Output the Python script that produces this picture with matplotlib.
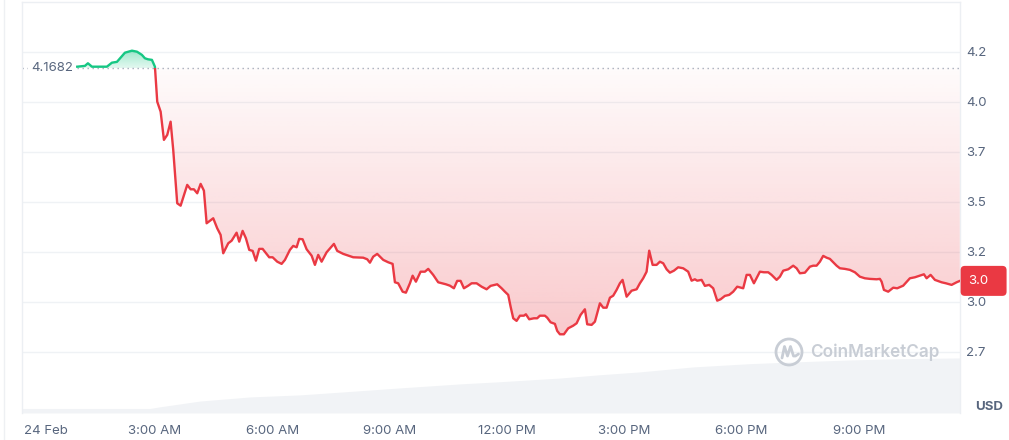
import numpy as np
import matplotlib
matplotlib.use("Agg")
import matplotlib.pyplot as plt
import matplotlib.colors as mcolors
import matplotlib.transforms as mtransforms
from matplotlib.patches import Rectangle, FancyBboxPatch, Circle
from matplotlib.path import Path
from matplotlib.lines import Line2D

plt.rcParams['font.family'] = ['Inter', 'DejaVu Sans']

# ---------------- data ----------------
hours = [
    1.013, 1.210, 1.286, 1.389, 1.593, 1.772, 1.900, 2.028, 2.233, 2.412,
    2.540, 2.667, 2.744, 2.821, 2.923, 3.000, 3.059, 3.146, 3.230, 3.315,
    3.401, 3.468, 3.570, 3.657, 3.826, 3.913, 3.997, 4.082, 4.169, 4.253,
    4.322, 4.491, 4.593, 4.680, 4.747, 4.875, 4.962, 5.089, 5.156, 5.243,
    5.327, 5.412, 5.499, 5.583, 5.667, 5.754, 5.923, 6.010, 6.128, 6.240,
    6.325, 6.452, 6.537, 6.624, 6.690, 6.777, 6.880, 7.008, 7.092, 7.176,
    7.263, 7.391, 7.578, 7.662, 7.816, 8.072, 8.327, 8.430, 8.499, 8.583,
    8.685, 8.839, 8.967, 9.079, 9.138, 9.222, 9.335, 9.419, 9.522, 9.591,
    9.675, 9.795, 9.905, 9.990, 10.117, 10.245, 10.442, 10.545, 10.647, 10.731,
    10.818, 10.903, 11.013, 11.100, 11.227, 11.355, 11.483, 11.585, 11.696, 11.754,
    11.867, 11.951, 12.036, 12.097, 12.164, 12.250, 12.335, 12.437, 12.488, 12.573,
    12.693, 12.777, 12.846, 12.974, 13.033, 13.120, 13.230, 13.289, 13.358, 13.460,
    13.571, 13.698, 13.785, 13.887, 13.997, 14.056, 14.169, 14.253, 14.381, 14.466,
    14.552, 14.637, 14.721, 14.808, 14.892, 14.961, 15.064, 15.192, 15.320, 15.404,
    15.488, 15.575, 15.642, 15.729, 15.831, 15.915, 16.000, 16.087, 16.171, 16.274,
    16.383, 16.511, 16.639, 16.726, 16.810, 16.870, 16.982, 17.066, 17.176, 17.279,
    17.381, 17.468, 17.578, 17.688, 17.790, 17.893, 18.046, 18.133, 18.217, 18.320,
    18.473, 18.576, 18.686, 18.772, 18.900, 18.985, 19.069, 19.197, 19.325, 19.412,
    19.496, 19.624, 19.752, 19.836, 19.923, 20.008, 20.092, 20.179, 20.263, 20.348,
    20.435, 20.519, 20.647, 20.775, 20.903, 21.030, 21.158, 21.286, 21.458, 21.542,
    21.586, 21.645, 21.755, 21.883, 21.985, 22.138, 22.309, 22.437, 22.565, 22.668,
    22.737, 22.839, 22.949, 23.120, 23.230, 23.376, 23.504, 23.588,
]
price = [
    4.175, 4.179, 4.192, 4.175, 4.175, 4.175, 4.195, 4.199, 4.245, 4.255,
    4.250, 4.234, 4.217, 4.212, 4.209, 4.175, 4.000, 3.950, 3.809, 3.834,
    3.900, 3.759, 3.492, 3.480, 3.584, 3.562, 3.562, 3.542, 3.589, 3.555,
    3.392, 3.417, 3.367, 3.334, 3.242, 3.292, 3.305, 3.345, 3.300, 3.354,
    3.317, 3.259, 3.254, 3.205, 3.264, 3.264, 3.222, 3.222, 3.200, 3.189,
    3.209, 3.259, 3.279, 3.272, 3.314, 3.312, 3.262, 3.230, 3.184, 3.234,
    3.200, 3.247, 3.289, 3.254, 3.239, 3.222, 3.220, 3.212, 3.195, 3.225,
    3.239, 3.209, 3.197, 3.189, 3.097, 3.092, 3.050, 3.045, 3.092, 3.130,
    3.100, 3.150, 3.150, 3.164, 3.134, 3.097, 3.087, 3.080, 3.067, 3.104,
    3.104, 3.067, 3.080, 3.092, 3.092, 3.075, 3.062, 3.079, 3.084, 3.087,
    3.067, 3.050, 3.034, 2.975, 2.917, 2.904, 2.930, 2.930, 2.937, 2.912,
    2.917, 2.917, 2.930, 2.930, 2.920, 2.897, 2.889, 2.854, 2.837, 2.837,
    2.867, 2.880, 2.892, 2.934, 2.962, 2.887, 2.884, 2.900, 2.992, 2.970,
    2.970, 3.020, 3.030, 3.059, 3.092, 3.109, 3.025, 3.055, 3.062, 3.092,
    3.117, 3.150, 3.255, 3.184, 3.184, 3.200, 3.192, 3.162, 3.145, 3.155,
    3.172, 3.167, 3.150, 3.105, 3.112, 3.105, 3.109, 3.079, 3.084, 3.067,
    3.005, 3.012, 3.029, 3.034, 3.050, 3.075, 3.067, 3.134, 3.134, 3.092,
    3.150, 3.147, 3.147, 3.134, 3.109, 3.125, 3.155, 3.162, 3.180, 3.167,
    3.142, 3.145, 3.175, 3.180, 3.180, 3.200, 3.229, 3.220, 3.214, 3.197,
    3.180, 3.167, 3.164, 3.159, 3.147, 3.125, 3.117, 3.114, 3.112, 3.114,
    3.100, 3.059, 3.050, 3.070, 3.067, 3.080, 3.117, 3.122, 3.130, 3.137,
    3.117, 3.134, 3.109, 3.097, 3.092, 3.084, 3.097, 3.104,
]
open_price = 4.1682
open_label = "4.1682"
last_label = "3.0"

vol_hours = [-0.40, 2.87, 3.13, 4.15, 5.43, 6.71, 7.48, 9.27, 10.85, 11.82,
             13.36, 14.38, 15.41, 16.76, 18.22, 19.29, 20.78, 22.05, 23.59]
vol_values = [1.1, 1.1, 1.5, 2.9, 3.9, 4.4, 4.9, 6.1, 7.1, 7.6,
              8.5, 9.3, 10.0, 11.2, 12.0, 12.4, 12.9, 13.2, 13.4]

x_tick_hours = [0.2, 3, 6, 9, 12, 15, 18, 21]
x_tick_labels = ['24 Feb', '3:00 AM', '6:00 AM', '9:00 AM', '12:00 PM',
                 '3:00 PM', '6:00 PM', '9:00 PM']
y_tick_values = [4.25, 4.0, 3.75, 3.5, 3.25, 3.0, 2.75]
y_tick_labels = ['4.2', '4.0', '3.7', '3.5', '3.2', '3.0', '2.7']
x_range = (-0.40, 23.59)
y_range = (2.4435, 4.4985)

# ---------------- styling ----------------
RED = '#ea3943'
GREEN = '#16c784'
TXT = '#58667e'
GRID = '#eff2f5'

fig = plt.figure(figsize=(10.09, 4.40), dpi=100)
fig.patch.set_facecolor('white')
ax = fig.add_axes([0.0218, 0.0614, 0.9296, 0.9341])
ax2 = ax.twinx()
ax2.set_zorder(0)
ax.set_zorder(1)
ax.patch.set_visible(False)
ax2.patch.set_visible(False)

# volume area
ax2.fill_between(vol_hours, vol_values, 0, color='#f1f3f6', lw=0)
ax2.set_ylim(0, 100)
ax2.set_yticks([])
for s in ax2.spines.values():
    s.set_visible(False)
ax2.tick_params(length=0, labelright=False)

h = np.array(hours)
p = np.array(price)

# gradient fills clipped to the area between the line and the open price
below = ax.fill_between(h, p, open_price, where=p <= open_price, interpolate=True,
                        facecolor='none', edgecolor='none')
above = ax.fill_between(h, p, open_price, where=p >= open_price, interpolate=True,
                        facecolor='none', edgecolor='none')


def gradient(color, a_bot, a_top, y0, y1, clip):
    rgb = mcolors.to_rgb(color)
    n = 256
    img = np.zeros((n, 2, 4))
    img[:, :, :3] = rgb
    img[:, :, 3] = np.linspace(a_bot, a_top, n)[:, None]
    im = ax.imshow(img, extent=(h[0], h[-1], y0, y1), origin='lower',
                   aspect='auto', zorder=1.5, interpolation='bilinear')
    paths = clip.get_paths()
    if paths:
        im.set_clip_path(Path.make_compound_path(*paths), ax.transData)


gradient(RED, 0.27, 0.02, p.min(), open_price, below)
gradient(GREEN, 0.12, 0.42, open_price, p.max(), above)

# baseline (open price)
ax.axhline(open_price, color='#a6adbb', lw=1.0, ls=(0, (1, 2.6)), zorder=2)
ax.text(0.0096, open_price, open_label,
        transform=mtransforms.blended_transform_factory(ax.transAxes, ax.transData),
        ha='left', va='center', fontsize=9.5, color=TXT, zorder=4,
        bbox=dict(boxstyle='square,pad=0.25', fc='white', ec='none'))

# price line, green above open price, red below
red_line, = ax.plot(h, p, color=RED, lw=1.7, zorder=3, solid_joinstyle='round')
green_line, = ax.plot(h, p, color=GREEN, lw=1.7, zorder=3, solid_joinstyle='round')
red_line.set_clip_path(Rectangle((x_range[0], y_range[0]), x_range[1] - x_range[0],
                                 open_price - y_range[0], transform=ax.transData))
green_line.set_clip_path(Rectangle((x_range[0], open_price), x_range[1] - x_range[0],
                                   y_range[1] - open_price, transform=ax.transData))

ax.set_xlim(*x_range)
ax.set_ylim(*y_range)
ax2.set_xlim(*x_range)

ax.set_yticks(y_tick_values, y_tick_labels)
ax.set_xticks(x_tick_hours, x_tick_labels)
ax.yaxis.tick_right()
ax.tick_params(axis='y', length=0, pad=4.5, labelsize=9.5, labelcolor=TXT,
               left=False, right=False, labelleft=False, labelright=True)
ax.tick_params(axis='x', length=0, pad=9, labelsize=9.5, labelcolor=TXT)
ax.grid(axis='y', color=GRID, lw=1)
ax.set_axisbelow(True)
for side in ('left', 'right', 'top'):
    ax.spines[side].set_color('#eceff3')
    ax.spines[side].set_linewidth(1)
ax.spines['bottom'].set_visible(False)

# last-price badge
bt = mtransforms.blended_transform_factory(ax.transAxes, ax.transData)
badge = FancyBboxPatch((1.0007, p[-1] - 0.075), 0.049, 0.15,
                       boxstyle='round,pad=0,rounding_size=0.0045',
                       mutation_aspect=4.69, transform=bt, clip_on=False,
                       fc=RED, ec='none', zorder=6)
ax.add_patch(badge)
ax.text(1.0085, p[-1], last_label, transform=bt, ha='left', va='center',
        color='white', fontsize=9.5, clip_on=False, zorder=7)

# currency label
fig.text(975 / 1009, (440 - 407) / 440, 'USD', ha='left', va='center',
         fontweight='bold', color=TXT, fontsize=9.5)

# watermark
WM = '#c8cdd5'
fig.text(0.8028, 0.2, 'CoinMarketCap', ha='left', va='center', color=WM,
         fontsize=12.3, fontweight='semibold', zorder=5)
logo = Circle((7.89, 0.88), 0.13, transform=fig.dpi_scale_trans, fill=False,
              ec=WM, lw=2, zorder=5)
fig.add_artist(logo)
mx = [7.82, 7.845, 7.875, 7.905, 7.935, 7.955, 7.985]
my = [0.82, 0.935, 0.84, 0.935, 0.84, 0.84, 0.86]
fig.add_artist(Line2D(mx, my, transform=fig.dpi_scale_trans, color=WM, lw=2,
                      solid_joinstyle='round', solid_capstyle='round', zorder=5))

# outer page border
fig.add_artist(Line2D([0.004, 0.004], [0, 1], transform=fig.transFigure,
                      color='#eef0f3', lw=1))

fig.savefig('out.png', dpi=100, facecolor='white')
